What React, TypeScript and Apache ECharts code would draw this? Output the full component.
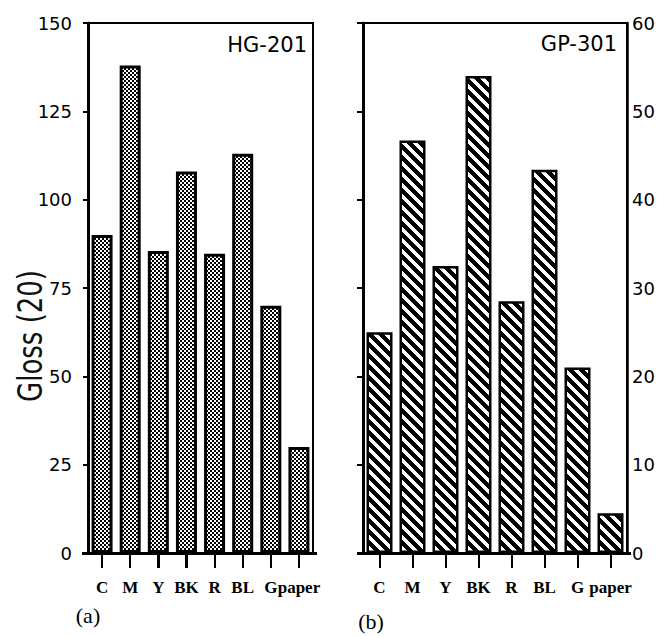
import React, { useEffect, useRef } from "react";
import * as echarts from "echarts";

const categories = ["C", "M", "Y", "BK", "R", "BL", "G", "paper"];
const hgValues = [90, 138, 85.5, 108, 84.7, 113, 70, 30];
const gpValues = [25, 46.7, 32.5, 54, 28.5, 43.4, 21, 4.5];
const leftAxis = { min: 0, max: 150, interval: 25 };
const rightAxis = { min: 0, max: 60, interval: 10 };
const titles = ["HG-201", "GP-301"];
const yName = "Gloss (20)";
const panelLabels = ["(a)", "(b)"];

const W = 669;
const H = 636;
const grids = [
  { left: 88, right: 356, top: 23, bottom: 83 },
  { left: 363, right: 42, top: 23, bottom: 83 },
];

function makeChecker(): HTMLCanvasElement {
  const c = document.createElement("canvas");
  c.width = 4;
  c.height = 4;
  const ctx = c.getContext("2d")!;
  ctx.fillStyle = "#fff";
  ctx.fillRect(0, 0, 4, 4);
  ctx.fillStyle = "#000";
  ctx.fillRect(0, 0, 2, 2);
  ctx.fillRect(2, 2, 2, 2);
  return c;
}

function makeStripes(): HTMLCanvasElement {
  const P = 11;
  const c = document.createElement("canvas");
  c.width = P;
  c.height = P;
  const ctx = c.getContext("2d")!;
  const img = ctx.createImageData(P, P);
  for (let y = 0; y < P; y++) {
    for (let x = 0; x < P; x++) {
      const d = (((x - y) % P) + P) % P;
      const v = d < 6 ? 0 : 255;
      const i = (y * P + x) * 4;
      img.data[i] = v;
      img.data[i + 1] = v;
      img.data[i + 2] = v;
      img.data[i + 3] = 255;
    }
  }
  ctx.putImageData(img, 0, 0);
  return c;
}

export default function App() {
  const ref = useRef<HTMLDivElement>(null);
  useEffect(() => {
    if (!ref.current) return;
    const chart = echarts.init(ref.current, null, { renderer: "svg" });
    const checker = makeChecker();
    const stripes = makeStripes();
    const sans = "DejaVu Sans";
    const serif = "Liberation Serif";
    const xLabel = {
      interval: 0,
      margin: 26,
      fontFamily: serif,
      fontWeight: "bold" as const,
      fontSize: 17,
      color: "#000",
    };
    const xTick = {
      show: true,
      inside: false,
      alignWithLabel: true,
      length: 15,
      lineStyle: { color: "#000", width: 2 },
    };

    const deco: any[] = [];
    grids.forEach((g) => {
      const x0 = g.left;
      const x1 = W - g.right;
      const yb = H - g.bottom;
      const band = (x1 - x0) / categories.length;
      categories.forEach((_c, i) => {
        const px = Math.round(x0 + band * (i + 0.5));
        deco.push({
          type: "rect",
          left: px - 1,
          top: yb,
          z: 100,
          shape: { width: 2, height: 15 },
          style: { fill: "#000" },
        });
      });
      deco.push({
        type: "rect",
        left: x0 - 6,
        top: yb - 1,
        z: 100,
        shape: { width: x1 - x0 + 10, height: 3 },
        style: { fill: "#000" },
      });
    });

    chart.setOption({
      animation: false,
      backgroundColor: "#fff",
      grid: grids.map((g) => ({ ...g, show: true, borderColor: "#000", borderWidth: 2 })),
      xAxis: [
        {
          type: "category",
          gridIndex: 0,
          data: categories,
          axisLine: { show: true, lineStyle: { color: "#000", width: 3 } },
          axisTick: xTick,
          axisLabel: xLabel,
        },
        {
          type: "category",
          gridIndex: 1,
          data: categories,
          axisLine: { show: true, lineStyle: { color: "#000", width: 3 } },
          axisTick: xTick,
          axisLabel: xLabel,
        },
      ],
      yAxis: [
        {
          type: "value",
          gridIndex: 0,
          ...leftAxis,
          splitLine: { show: false },
          axisLine: { show: true, lineStyle: { color: "#000", width: 3 } },
          axisTick: { show: true, length: 5, lineStyle: { color: "#000", width: 2 } },
          axisLabel: { fontFamily: sans, fontSize: 18, color: "#000", margin: 16 },
        },
        {
          type: "value",
          gridIndex: 1,
          position: "left",
          ...rightAxis,
          splitLine: { show: false },
          axisLine: { show: true, lineStyle: { color: "#000", width: 3 } },
          axisTick: { show: true, length: 6, lineStyle: { color: "#000", width: 2 } },
          axisLabel: { show: false },
        },
        {
          type: "value",
          gridIndex: 1,
          position: "right",
          ...rightAxis,
          splitLine: { show: false },
          axisLine: { show: true, lineStyle: { color: "#000", width: 2.5 } },
          axisTick: { show: false },
          axisLabel: { fontFamily: sans, fontSize: 18, color: "#000", margin: 5 },
        },
      ],
      series: [
        {
          type: "bar",
          xAxisIndex: 0,
          yAxisIndex: 0,
          data: hgValues,
          barWidth: 21,
          itemStyle: {
            color: { image: checker, repeat: "repeat" },
            borderColor: "#000",
            borderWidth: 3,
          },
        },
        {
          type: "bar",
          xAxisIndex: 1,
          yAxisIndex: 2,
          data: gpValues,
          barWidth: 26,
          itemStyle: {
            color: { image: stripes, repeat: "repeat" },
            borderColor: "#000",
            borderWidth: 2.5,
          },
        },
      ],
      graphic: [
        {
          type: "text",
          right: W - 307,
          top: 34,
          style: { text: titles[0], fontFamily: sans, fontSize: 21, fill: "#000" },
        },
        {
          type: "text",
          right: W - 617,
          top: 33,
          style: { text: titles[1], fontFamily: sans, fontSize: 21, fill: "#000" },
        },
        {
          type: "text",
          x: 30,
          y: 336,
          rotation: Math.PI / 2,
          scaleY: 1.3,
          style: {
            text: yName,
            fontFamily: sans,
            fontSize: 26,
            fill: "#111",
            align: "center",
            verticalAlign: "middle",
          },
        },
        {
          type: "text",
          x: 88,
          y: 615,
          style: {
            text: panelLabels[0],
            fontFamily: serif,
            fontSize: 22,
            fill: "#000",
            align: "center",
            verticalAlign: "middle",
          },
        },
        {
          type: "text",
          x: 371,
          y: 621,
          style: {
            text: panelLabels[1],
            fontFamily: serif,
            fontSize: 22,
            fill: "#000",
            align: "center",
            verticalAlign: "middle",
          },
        },
        ...deco,
      ],
    });

    return () => chart.dispose();
  }, []);
  return <div ref={ref} style={{ width: W, height: H, position: "absolute", left: 0, top: 0 }} />;
}
